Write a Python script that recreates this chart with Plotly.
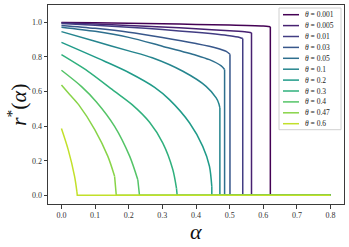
import plotly.graph_objects as go
from plotly.colors import sample_colorscale

# ---------------- data ----------------
theta_labels = ["0.001", "0.005", "0.01", "0.03", "0.05", "0.1", "0.2", "0.3", "0.4", "0.47", "0.6"]

alpha_0001 = [0, 0.1, 0.2, 0.3, 0.4, 0.5, 0.6, 0.621, 0.621, 0.8]
r_0001 = [0.999, 0.997, 0.994, 0.991, 0.988, 0.984, 0.978, 0.975, 0, 0]

alpha_0005 = [0, 0.1, 0.2, 0.3, 0.4, 0.5, 0.55, 0.565, 0.565, 0.8]
r_0005 = [0.997, 0.990, 0.982, 0.973, 0.963, 0.951, 0.944, 0.939, 0, 0]

alpha_001 = [0, 0.1, 0.2, 0.3, 0.4, 0.5, 0.53, 0.539, 0.539, 0.8]
r_001 = [0.993, 0.983, 0.972, 0.958, 0.942, 0.922, 0.912, 0.906, 0, 0]

alpha_003 = [0, 0.1, 0.2, 0.3, 0.4, 0.46, 0.49, 0.501, 0.501, 0.8]
r_003 = [0.982, 0.965, 0.943, 0.912, 0.877, 0.852, 0.832, 0.815, 0, 0]

alpha_005 = [0, 0.1, 0.2, 0.3, 0.4, 0.44, 0.475, 0.485, 0.485, 0.8]
r_005 = [0.972, 0.948, 0.913, 0.862, 0.810, 0.784, 0.748, 0.727, 0, 0]

alpha_01 = [0, 0.1, 0.2, 0.27, 0.361, 0.43, 0.46, 0.468, 0.471, 0.471, 0.8]
r_01 = [0.946, 0.890, 0.835, 0.795, 0.717, 0.630, 0.563, 0.530, 0.505, 0, 0]

alpha_02 = [0, 0.128, 0.2, 0.277, 0.321, 0.381, 0.42, 0.44, 0.447, 0.447, 0.8]
r_02 = [0.884, 0.775, 0.710, 0.624, 0.553, 0.418, 0.283, 0.168, 0.05, 0, 0]

alpha_03 = [0, 0.079, 0.158, 0.21, 0.262, 0.301, 0.331, 0.342, 0.344, 0.8]
r_03 = [0.813, 0.717, 0.601, 0.524, 0.422, 0.303, 0.149, 0.04, 0, 0]

alpha_04 = [0, 0.059, 0.104, 0.158, 0.203, 0.227, 0.232, 0.8]
r_04 = [0.723, 0.630, 0.540, 0.399, 0.225, 0.09, 0, 0]

alpha_047 = [0, 0.025, 0.051, 0.099, 0.138, 0.158, 0.163, 0.8]
r_047 = [0.638, 0.582, 0.524, 0.380, 0.225, 0.11, 0, 0]

alpha_06 = [0, 0.02, 0.039, 0.046, 0.047, 0.8]
r_06 = [0.386, 0.264, 0.110, 0.02, 0, 0]

x_ticks = [0.0, 0.1, 0.2, 0.3, 0.4, 0.5, 0.6, 0.7, 0.8]
x_tick_text = ["0.0", "0.1", "0.2", "0.3", "0.4", "0.5", "0.6", "0.7", "0.8"]
y_ticks = [0.0, 0.2, 0.4, 0.6, 0.8, 1.0]
y_tick_text = ["0.0", "0.2", "0.4", "0.6", "0.8", "1.0"]

series = [
    (alpha_0001, r_0001), (alpha_0005, r_0005), (alpha_001, r_001),
    (alpha_003, r_003), (alpha_005, r_005), (alpha_01, r_01),
    (alpha_02, r_02), (alpha_03, r_03), (alpha_04, r_04),
    (alpha_047, r_047), (alpha_06, r_06),
]

# ---------------- figure ----------------
W, H = 349, 247
L, R, T, B = 48, 5, 5, 43
PW, PH = W - L - R, H - T - B
SERIF = "Liberation Serif"

def px_x(px):
    return (px - L) / PW

def px_y(py):
    return (H - B - py) / PH

n = len(theta_labels)
colors = sample_colorscale("Viridis", [i / n for i in range(n)])

fig = go.Figure()
for (a, r), lab, c in zip(series, theta_labels, colors):
    k = r.index(0)
    # smooth curved part
    fig.add_trace(go.Scatter(x=a[:k], y=r[:k], mode="lines", name=lab,
                             line=dict(color=c, width=1.5, shape="spline", smoothing=0.8),
                             showlegend=False, hoverinfo="skip"))
    # vertical drop and zero tail
    fig.add_trace(go.Scatter(x=a[k - 1:], y=r[k - 1:], mode="lines", name=lab,
                             line=dict(color=c, width=1.5), showlegend=False,
                             hoverinfo="skip"))

axis_common = dict(
    showgrid=False, zeroline=False, showline=True, mirror=True,
    linecolor="#3a3a3a", linewidth=1, ticks="outside", ticklen=3.5,
    tickwidth=0.8, tickcolor="#3a3a3a",
    tickfont=dict(family=SERIF, size=8, color="#333"),
)

fig.update_layout(
    width=W, height=H,
    margin=dict(l=L, r=R, t=T, b=B, pad=0),
    paper_bgcolor="white", plot_bgcolor="white",
    xaxis=dict(range=[-0.04, 0.84], tickvals=x_ticks, ticktext=x_tick_text, **axis_common),
    yaxis=dict(range=[-0.05, 1.1], tickvals=y_ticks, ticktext=y_tick_text, **axis_common),
    showlegend=False,
)

annotations = [
    dict(text="<i>α</i>", x=0.5, y=px_y(217), xref="paper", yref="paper",
         showarrow=False, xanchor="center", yanchor="top",
         font=dict(family=SERIF, size=22, color="#111")),
    dict(text="<i>r</i><sup>*</sup>(<i>α</i>)", x=px_x(17), y=px_y(105), xref="paper", yref="paper",
         showarrow=False, xanchor="center", yanchor="middle", textangle=-90,
         font=dict(family=SERIF, size=22, color="#111")),
]

shapes = []
# legend box
row0, dy = 14.7, 10.9
box_bottom = row0 + (n - 1) * dy + 6
shapes.append(dict(type="rect", xref="paper", yref="paper",
                   x0=px_x(279), x1=px_x(341), y0=px_y(box_bottom), y1=px_y(8),
                   line=dict(color="#d0d0d0", width=1), fillcolor="rgba(255,255,255,0.85)",
                   layer="above"))
for i, (lab, c) in enumerate(zip(theta_labels, colors)):
    yy = px_y(row0 + i * dy)
    shapes.append(dict(type="line", xref="paper", yref="paper",
                       x0=px_x(283), x1=px_x(299), y0=yy, y1=yy,
                       line=dict(color=c, width=1.5), layer="above"))
    annotations.append(dict(text=f"<i>θ</i> = {lab}", x=px_x(303), y=yy,
                            xref="paper", yref="paper", showarrow=False,
                            xanchor="left", yanchor="middle",
                            font=dict(family=SERIF, size=7.5, color="#222")))

fig.update_layout(annotations=annotations, shapes=shapes)
fig.write_html("out.html", config={"displayModeBar": False},
               post_script="document.body.style.margin='0';document.body.style.overflow='hidden';")
